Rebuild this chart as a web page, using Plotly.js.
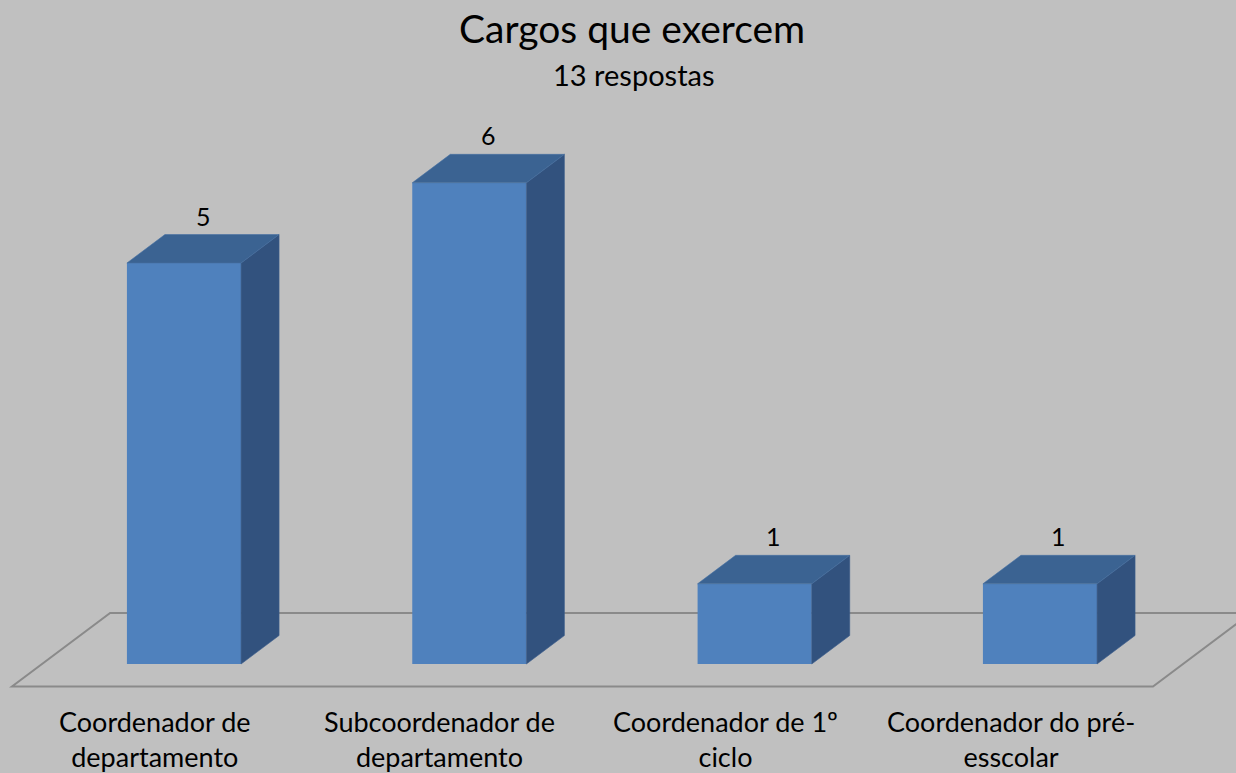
<!DOCTYPE html>
<html>
<head>
<meta charset="utf-8">
<script src="https://cdn.plot.ly/plotly-3.0.1.min.js"></script>
<style>html,body{margin:0;padding:0;background:#c0c0c0;}#chart{width:1236px;height:773px;}</style>
</head>
<body>
<div id="chart"></div>
<script>
// ---- data ----
const categories = ["Coordenador de<br>departamento", "Subcoordenador de<br>departamento", "Coordenador de 1º<br>ciclo", "Coordenador do pré-<br>esscolar"];
const values = [5, 6, 1, 1];
const titleText = "Cargos que exercem";
const subtitleText = "13 respostas";

// ---- style / geometry ----
const W = 1236, H = 773;
const barWidth = 0.4;
const depthX = 0.1332, depthY = 0.355;   // oblique depth offset (data units)
const floorFront = -0.2805, floorBack = 0.636;
const floorLeft = -0.6028, floorRight = 3.396;
const floorDX = (floorBack - floorFront) * depthX / depthY;
const cFront = "#4f81bd", cTop = "#3b6392", cSide = "#32527e";
const font = "Lato, 'Open Sans', sans-serif";

const xs = values.map((v, i) => i);
const traces = [];
// front faces (bars)
traces.push({type: "bar", x: xs, y: values, width: barWidth, marker: {color: cFront, line: {width: 0}}, hoverinfo: "skip"});
// side & top faces
values.forEach((v, i) => {
  const l = i - barWidth / 2, r = i + barWidth / 2;
  traces.push({type: "scatter", mode: "lines", fill: "toself", fillcolor: cSide, line: {width: 0.6, color: "#3a5d8c"},
    x: [r, r + depthX, r + depthX, r, r], y: [0, depthY, v + depthY, v, 0], hoverinfo: "skip"});
  traces.push({type: "scatter", mode: "lines", fill: "toself", fillcolor: cTop, line: {width: 0.6, color: "#4670a3"},
    x: [l, r, r + depthX, l + depthX, l], y: [v, v, v + depthY, v + depthY, v], hoverinfo: "skip"});
});

const annotations = [];
annotations.push({xref: "paper", yref: "paper", x: 632 / W, y: 1 - 28 / H, text: titleText, showarrow: false,
  xanchor: "center", yanchor: "middle", font: {family: font, size: 39, color: "#000"}});
annotations.push({xref: "paper", yref: "paper", x: 634 / W, y: 1 - 75 / H, text: subtitleText, showarrow: false,
  xanchor: "center", yanchor: "middle", font: {family: font, size: 29, color: "#000"}});
values.forEach((v, i) => {
  annotations.push({x: i + depthX / 2, y: v + depthY, text: String(v), showarrow: false, xanchor: "center", yanchor: "bottom",
    yshift: 2, font: {family: font, size: 25, color: "#000"}});
  annotations.push({x: i - 0.103, yref: "paper", y: 1 - 739 / H, text: categories[i], showarrow: false, xanchor: "center", yanchor: "middle",
    font: {family: font, size: 27, color: "#000"}});
});

const floorPath = "M " + floorLeft + "," + floorFront + " L " + floorRight + "," + floorFront +
  " L " + (floorRight + floorDX) + "," + floorBack + " L " + (floorLeft + floorDX) + "," + floorBack + " Z";

const layout = {
  width: W, height: H,
  paper_bgcolor: "#c0c0c0", plot_bgcolor: "#c0c0c0",
  margin: {l: 0, r: 0, t: 0, b: 0},
  showlegend: false,
  xaxis: {range: [-184 / 285.33, (W - 184) / 285.33], showgrid: false, zeroline: false, showticklabels: false, ticks: "", showline: false, fixedrange: true},
  yaxis: {range: [-(H - 664) / 80.2, 664 / 80.2], showgrid: false, zeroline: false, showticklabels: false, ticks: "", showline: false, fixedrange: true},
  shapes: [{type: "path", path: floorPath, layer: "below", line: {color: "#8a8a8a", width: 2}, fillcolor: "rgba(0,0,0,0)"}],
  annotations: annotations
};

Plotly.newPlot("chart", traces, layout, {displayModeBar: false, staticPlot: true});
</script>
</body>
</html>
